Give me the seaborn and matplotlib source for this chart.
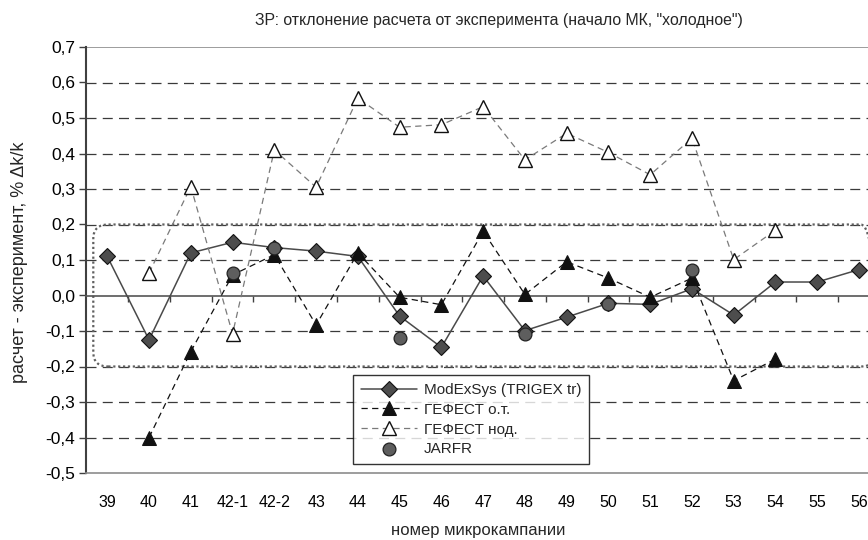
import numpy as np
import pandas as pd
import matplotlib
matplotlib.use("Agg")
import matplotlib.pyplot as plt
import seaborn as sns
from matplotlib.patches import FancyBboxPatch
from matplotlib.ticker import MultipleLocator, FuncFormatter

categories = ["39", "40", "41", "42-1", "42-2", "43", "44", "45", "46", "47",
              "48", "49", "50", "51", "52", "53", "54", "55", "56"]
modexsys = [0.11, -0.125, 0.12, 0.15, 0.135, 0.125, 0.11, -0.058, -0.146, 0.055,
            -0.099, -0.061, -0.022, -0.025, 0.019, -0.055, 0.038, 0.038, 0.073]
gefest_ot = [np.nan, -0.40, -0.158, 0.058, 0.115, -0.083, 0.12, -0.005, -0.026, 0.181,
             0.003, 0.095, 0.049, -0.005, 0.049, -0.24, -0.179, np.nan, np.nan]
gefest_nod = [np.nan, 0.063, 0.307, -0.108, 0.41, 0.305, 0.556, 0.474, 0.481, 0.532,
              0.382, 0.457, 0.403, 0.340, 0.443, 0.101, 0.184, np.nan, np.nan]
jarfr = [np.nan, np.nan, np.nan, 0.064, 0.135, np.nan, np.nan, -0.12, np.nan, np.nan,
         -0.108, np.nan, -0.024, np.nan, 0.073, np.nan, np.nan, np.nan, np.nan]

labels = ["ModExSys (TRIGEX tr)", "ГЕФЕСТ о.т.", "ГЕФЕСТ нод.", "JARFR"]

sns.set_theme(style="white")
plt.rcParams['font.family'] = ['Liberation Sans', 'DejaVu Sans']

pos = np.arange(len(categories))
df = pd.DataFrame({"pos": pos, "mod": modexsys, "ot": gefest_ot,
                   "nod": gefest_nod, "jarfr": jarfr})

fig = plt.figure(figsize=(8.68, 5.40), dpi=100)
ax = fig.add_axes([86.4 / 868, 67 / 540, 793.5 / 868, 426 / 540])
ax.set_facecolor("white")

# gridlines
for v in np.arange(-0.4, 0.65, 0.1):
    if abs(v) < 1e-9:
        continue
    ax.axhline(v, color="#3a3a3a", lw=0.9, ls=(0, (8, 5)), zorder=1)
ax.axhline(0.7, color="#8c8c8c", lw=1.2, zorder=1)

# rounded dotted region
box = FancyBboxPatch((-0.335, -0.2), 18.4 + 0.335, 0.4,
                     boxstyle="round,pad=0,rounding_size=0.36",
                     mutation_aspect=0.04 / 0.36,
                     fill=False, edgecolor="#606060", lw=1.6,
                     ls=(0, (1, 1.2)), zorder=2, clip_on=True)
ax.add_patch(box)

sns.lineplot(data=df, x="pos", y="mod", ax=ax, color="#4a4a4a", lw=1.1,
             marker="D", markersize=8, markerfacecolor="#4d4d4d",
             markeredgecolor="#111111", markeredgewidth=0.8,
             label=labels[0], zorder=4)
sns.lineplot(data=df, x="pos", y="ot", ax=ax, color="#111111", lw=0.9,
             ls=(0, (5, 3.5)), marker="^", markersize=9.5,
             markerfacecolor="#111111", markeredgecolor="#111111",
             label=labels[1], zorder=5)
sns.lineplot(data=df, x="pos", y="nod", ax=ax, color="#7a7a7a", lw=0.9,
             ls=(0, (5, 3.5)), marker="^", markersize=9.5,
             markerfacecolor="white", markeredgecolor="#111111",
             markeredgewidth=1.0, label=labels[2], zorder=6)
sns.scatterplot(data=df, x="pos", y="jarfr", ax=ax, color="#5e5e5e",
                edgecolor="#222222", linewidth=0.9, s=85, marker="o",
                label=labels[3], zorder=7)

ax.set_xlim(-0.5, 18.5)
ax.set_ylim(-0.5, 0.7)

# y axis
ax.yaxis.set_major_locator(MultipleLocator(0.1))
ax.yaxis.set_major_formatter(FuncFormatter(lambda v, p: f"{v:.1f}".replace(".", ",").replace("-0,0", "0,0")))
ax.tick_params(axis="y", which="major", left=True, direction="out", length=5,
               width=1, color="#404040", labelsize=12.5, labelcolor="black", pad=3)

# x axis: labels at bottom, ticks on zero line
ax.set_xticks(pos)
ax.set_xticklabels(categories)
ax.set_xticks(pos[:-1] + 0.5, minor=True)
ax.tick_params(axis="x", which="major", bottom=True, length=0, labelsize=11.5,
               labelcolor="black", pad=16)
ax.tick_params(axis="x", which="minor", bottom=False, top=True, direction="in",
               length=4, width=1, color="#404040")
ax.spines["top"].set_position(("data", 0))
ax.spines["top"].set_color("#555555")
ax.spines["top"].set_linewidth(1.2)
ax.spines["top"].set_zorder(3)
ax.spines["left"].set_color("#404040")
ax.spines["left"].set_linewidth(1.5)
ax.spines["bottom"].set_color("#8c8c8c")
ax.spines["bottom"].set_linewidth(1.2)
ax.spines["right"].set_visible(False)

ax.set_xlabel("")
ax.set_ylabel("")
fig.text(20 / 868, 1 - 262 / 540, "расчет - эксперимент, % Δk/k", rotation=90,
         ha="center", va="center", fontsize=13)
fig.text(478 / 868, 1 - 531 / 540, "номер микрокампании", ha="center",
         va="center", fontsize=12)
fig.text(499 / 868, 1 - 21 / 540,
         "ЗР: отклонение расчета от эксперимента (начало МК, \"холодное\")",
         ha="center", va="center", fontsize=11.4)

leg = ax.legend(loc="lower left", bbox_to_anchor=((353 - 86.4) / 793.5, (473 - 464) / 426),
                frameon=True, fancybox=False, fontsize=11, handlelength=3.7,
                borderpad=0.5, labelspacing=0.38, handletextpad=0.45,
                borderaxespad=0)
leg.get_frame().set_edgecolor("black")
leg.get_frame().set_linewidth(1.0)
leg.set_zorder(10)

fig.savefig("out.png", dpi=100)
